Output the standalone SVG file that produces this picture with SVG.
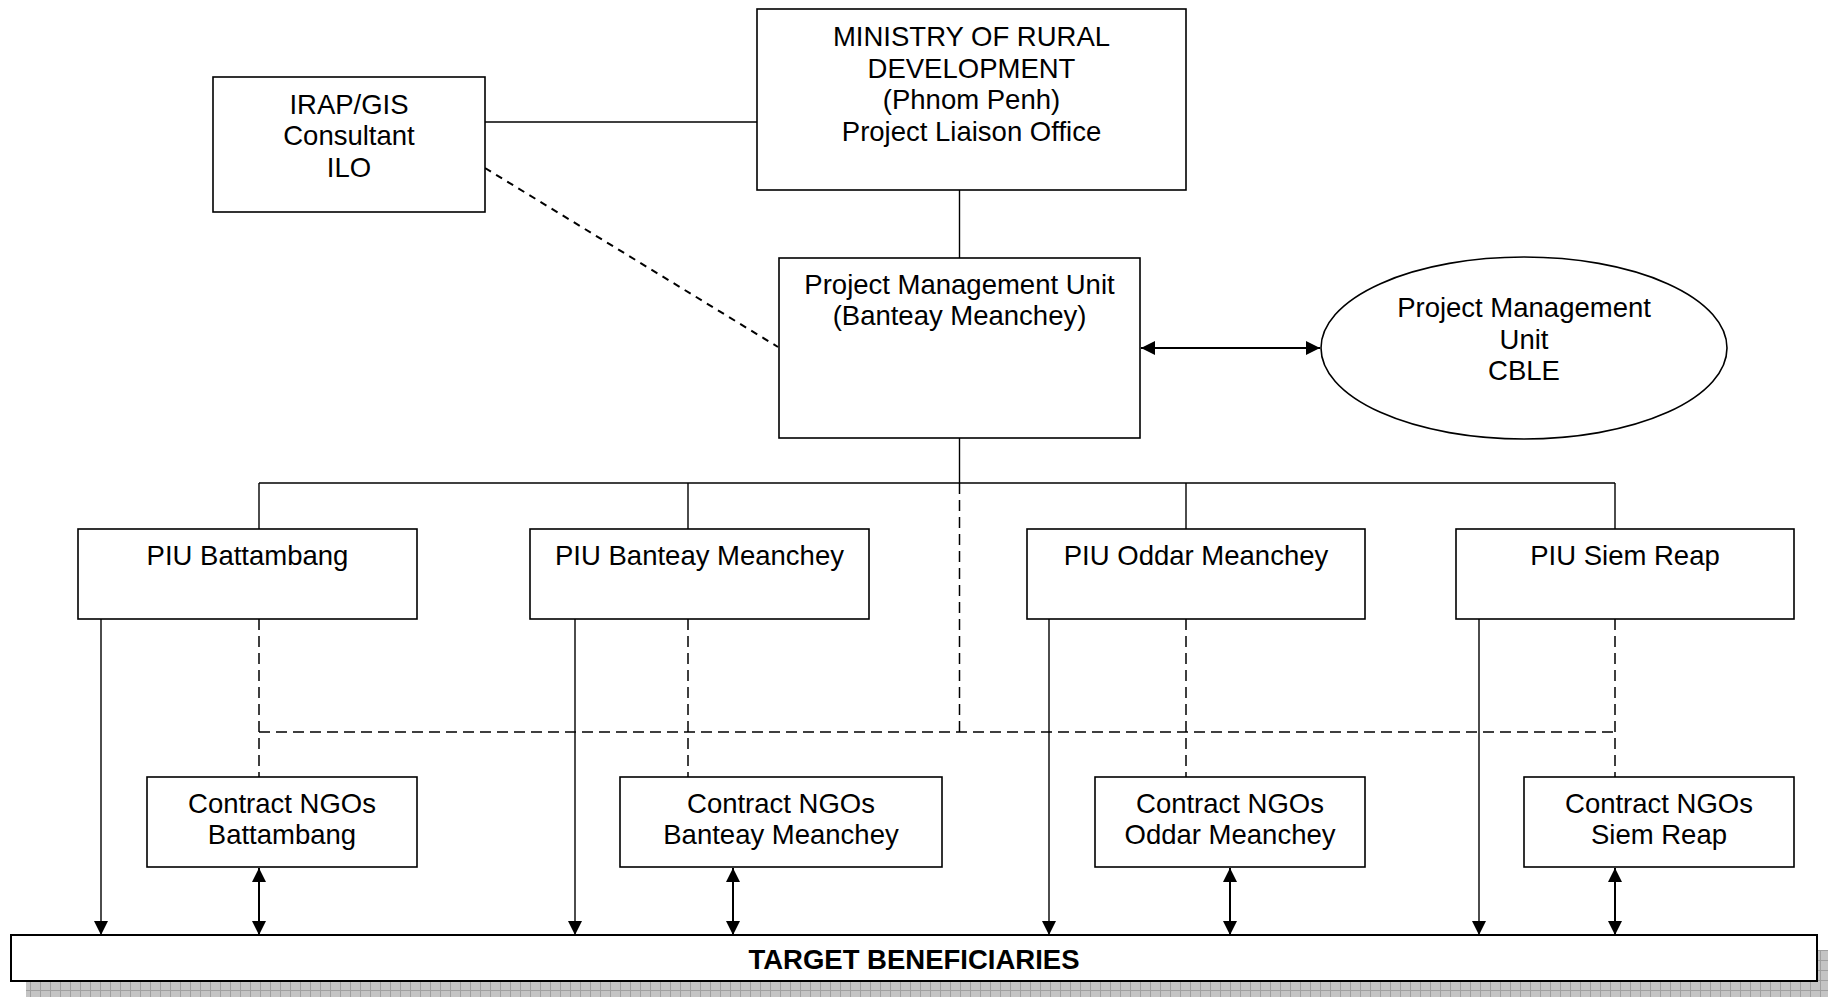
<svg xmlns="http://www.w3.org/2000/svg" width="1828" height="997" viewBox="0 0 1828 997">
<style>
.box{fill:#fff;stroke:#000;stroke-width:1.6}
.t{font-family:"Liberation Sans",Arial,sans-serif;font-size:27.5px;fill:#000;text-anchor:middle}
.b{font-weight:bold}
.ln{stroke:#000;stroke-width:1.4;fill:none}
.thick{stroke:#000;stroke-width:2;fill:none}
.dash{stroke:#000;stroke-width:1.5;fill:none;stroke-dasharray:11 6}
.dot{stroke:#000;stroke-width:2;fill:none;stroke-dasharray:7 6}
</style>
<defs>
<marker id="arr" viewBox="0 0 14 14" markerWidth="14" markerHeight="14" refX="14" refY="7" orient="auto-start-reverse" markerUnits="userSpaceOnUse">
<path d="M0,0 L14,7 L0,14 z" fill="#000"/>
</marker>
<pattern id="grid" width="10" height="10" patternUnits="userSpaceOnUse">
<rect width="10" height="10" fill="#c4c4c4"/>
<path d="M0,0.5 H10 M0.5,0 V10" stroke="#a0a0a0" stroke-width="1"/>
</pattern>
</defs>
<rect width="1828" height="997" fill="#fff"/>

<g id="connectors">
<line class="ln" x1="485" y1="122" x2="757" y2="122"/>
<line class="ln" x1="959.5" y1="190" x2="959.5" y2="258"/>
<line class="dot" x1="485" y1="168" x2="778" y2="347"/>
<line class="thick" x1="1141" y1="348" x2="1320" y2="348" marker-start="url(#arr)" marker-end="url(#arr)"/>
<line class="ln" x1="959.5" y1="438" x2="959.5" y2="483"/>
<line class="ln" x1="259" y1="483" x2="1615" y2="483"/>
<line class="ln" x1="259" y1="483" x2="259" y2="529"/>
<line class="ln" x1="688" y1="483" x2="688" y2="529"/>
<line class="ln" x1="1186" y1="483" x2="1186" y2="529"/>
<line class="ln" x1="1615" y1="483" x2="1615" y2="529"/>
<line class="dash" x1="959.5" y1="483" x2="959.5" y2="732"/>
<line class="dash" x1="259" y1="732" x2="1615" y2="732"/>
<line class="dash" x1="259" y1="619" x2="259" y2="777"/>
<line class="dash" x1="688" y1="619" x2="688" y2="777"/>
<line class="dash" x1="1186" y1="619" x2="1186" y2="777"/>
<line class="dash" x1="1615" y1="619" x2="1615" y2="777"/>
<line class="ln" x1="101" y1="619" x2="101" y2="935" marker-end="url(#arr)"/>
<line class="ln" x1="575" y1="619" x2="575" y2="935" marker-end="url(#arr)"/>
<line class="ln" x1="1049" y1="619" x2="1049" y2="935" marker-end="url(#arr)"/>
<line class="ln" x1="1479" y1="619" x2="1479" y2="935" marker-end="url(#arr)"/>
<line class="thick" x1="259" y1="868" x2="259" y2="935" marker-start="url(#arr)" marker-end="url(#arr)"/>
<line class="thick" x1="733" y1="868" x2="733" y2="935" marker-start="url(#arr)" marker-end="url(#arr)"/>
<line class="thick" x1="1230" y1="868" x2="1230" y2="935" marker-start="url(#arr)" marker-end="url(#arr)"/>
<line class="thick" x1="1615" y1="868" x2="1615" y2="935" marker-start="url(#arr)" marker-end="url(#arr)"/>
</g>

<g id="ministry">
<rect class="box" x="757" y="9" width="429" height="181"/>
<text class="t" x="971.5" y="46">MINISTRY OF RURAL</text>
<text class="t" x="971.5" y="77.5">DEVELOPMENT</text>
<text class="t" x="971.5" y="109">(Phnom Penh)</text>
<text class="t" x="971.5" y="140.5">Project Liaison Office</text>
</g>

<g id="irap">
<rect class="box" x="213" y="77" width="272" height="135"/>
<text class="t" x="349" y="113.5">IRAP/GIS</text>
<text class="t" x="349" y="145">Consultant</text>
<text class="t" x="349" y="176.5">ILO</text>
</g>

<g id="pmu">
<rect class="box" x="779" y="258" width="361" height="180"/>
<text class="t" x="959.5" y="294">Project Management Unit</text>
<text class="t" x="959.5" y="325">(Banteay Meanchey)</text>
</g>

<g id="pmu-cble">
<ellipse class="box" cx="1524" cy="348" rx="203" ry="91"/>
<text class="t" x="1524" y="317">Project Management</text>
<text class="t" x="1524" y="349">Unit</text>
<text class="t" x="1524" y="380">CBLE</text>
</g>

<g id="piu-battambang">
<rect class="box" x="78" y="529" width="339" height="90"/>
<text class="t" x="247.5" y="565">PIU Battambang</text>
</g>
<g id="piu-banteay">
<rect class="box" x="530" y="529" width="339" height="90"/>
<text class="t" x="699.5" y="565">PIU Banteay Meanchey</text>
</g>
<g id="piu-oddar">
<rect class="box" x="1027" y="529" width="338" height="90"/>
<text class="t" x="1196" y="565">PIU Oddar Meanchey</text>
</g>
<g id="piu-siemreap">
<rect class="box" x="1456" y="529" width="338" height="90"/>
<text class="t" x="1625" y="565">PIU Siem Reap</text>
</g>

<g id="ngo-battambang">
<rect class="box" x="147" y="777" width="270" height="90"/>
<text class="t" x="282" y="812.5">Contract NGOs</text>
<text class="t" x="282" y="844">Battambang</text>
</g>
<g id="ngo-banteay">
<rect class="box" x="620" y="777" width="322" height="90"/>
<text class="t" x="781" y="812.5">Contract NGOs</text>
<text class="t" x="781" y="844">Banteay Meanchey</text>
</g>
<g id="ngo-oddar">
<rect class="box" x="1095" y="777" width="270" height="90"/>
<text class="t" x="1230" y="812.5">Contract NGOs</text>
<text class="t" x="1230" y="844">Oddar Meanchey</text>
</g>
<g id="ngo-siemreap">
<rect class="box" x="1524" y="777" width="270" height="90"/>
<text class="t" x="1659" y="812.5">Contract NGOs</text>
<text class="t" x="1659" y="844">Siem Reap</text>
</g>

<g id="target">
<rect x="26" y="950" width="1810" height="60" fill="url(#grid)"/>
<rect x="11" y="935" width="1806" height="46" fill="#fff" stroke="#000" stroke-width="2"/>
<text class="t b" x="914" y="969">TARGET BENEFICIARIES</text>
</g>
</svg>
